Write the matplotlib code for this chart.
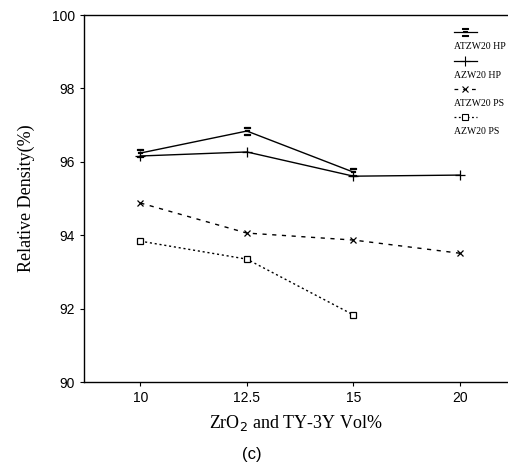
import matplotlib.pyplot as plt

# composition levels (categorical axis) and relative density readings
vol_labels = ["10", "12.5", "15", "20"]
atzw20_hp = [96.24, 96.84, 95.72]
azw20_hp = [96.16, 96.27, 95.61, 95.64]
atzw20_ps = [94.88, 94.06, 93.87, 93.51]
azw20_ps = [93.84, 93.35, 91.83]

series = [
    ("ATZW20 HP", atzw20_hp, dict(ls="-", marker=r"$\Xi$", ms=6)),
    ("AZW20 HP", azw20_hp, dict(ls="-", marker="+", ms=7)),
    ("ATZW20 PS", atzw20_ps, dict(ls=(0, (3, 4)), marker="x", ms=4)),
    ("AZW20 PS", azw20_ps, dict(ls=(0, (1.5, 2)), marker="s", ms=5, mfc="white")),
]

serif = ["Liberation Serif", "DejaVu Serif"]
sans = ["Liberation Sans", "DejaVu Sans"]

fig = plt.figure(figsize=(5.08, 4.70), dpi=100)
ax = fig.add_axes([0.165, 0.187, 0.835, 0.781])

for name, vals, style in series:
    xs = list(range(len(vals)))
    ax.plot(xs, vals, color="black", lw=1.0, mew=0.9, **style)

ax.set_xlim(-0.53, 3.45)
ax.set_ylim(90, 100)
ax.set_xticks(range(len(vol_labels)))
ax.set_xticklabels(vol_labels)
ax.set_yticks([90, 92, 94, 96, 98, 100])
ax.tick_params(axis="both", labelsize=10, length=3, width=0.8, direction="out")
for lab in ax.get_xticklabels() + ax.get_yticklabels():
    lab.set_family(sans)
ax.spines["right"].set_visible(False)
for s in ["left", "top", "bottom"]:
    ax.spines[s].set_linewidth(1.0)

ax.set_ylabel("Relative Density(%)", family=serif, fontsize=13, labelpad=12)
ax.set_xlabel(r"ZrO$_2$ and TY-3Y Vol%", family=serif, fontsize=13, labelpad=6)
fig.text(0.496, 0.032, "(c)", ha="center", va="center", fontsize=12, family=sans)

# key: line sample above each label
y0 = 0.953
for i, (name, vals, style) in enumerate(series):
    ys = y0 - i * 0.077
    ax.plot([0.872, 0.8995, 0.927], [ys, ys, ys], color="black", lw=0.9,
            mew=0.8, transform=ax.transAxes, clip_on=False, markevery=[1],
            **style)
    ax.text(0.872, ys - 0.04, name, transform=ax.transAxes, fontsize=7,
            family=serif, ha="left", va="center")

fig.savefig("out.png", dpi=100)
